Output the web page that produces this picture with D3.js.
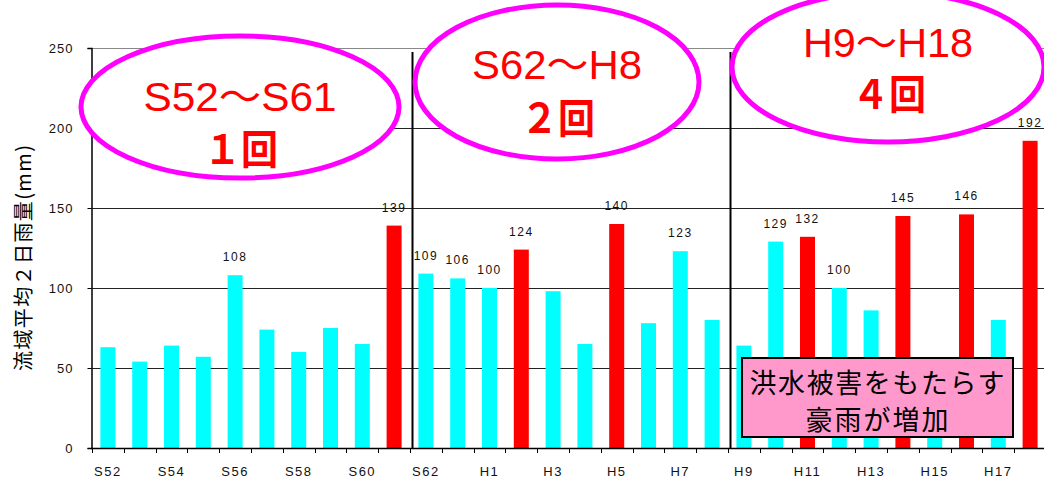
<!DOCTYPE html>
<html>
<head>
<meta charset="utf-8">
<script src="https://cdn.jsdelivr.net/npm/d3@7"></script>
<style>
  body { margin: 0; background: #fff; }
  svg { display: block; }
</style>
</head>
<body>
<div id="chart"></div>
<script>
var years = ['S52', 'S53', 'S54', 'S55', 'S56', 'S57', 'S58', 'S59', 'S60', 'S61',
   'S62', 'S63', 'H1', 'H2', 'H3', 'H4', 'H5', 'H6', 'H7', 'H8',
   'H9', 'H10', 'H11', 'H12', 'H13', 'H14', 'H15', 'H16', 'H17', 'H18'];
var rain = [63, 54, 64, 57, 108, 74, 60, 75, 65, 139,
   109, 106, 100, 124, 98, 65, 140, 78, 123, 80,
   64, 129, 132, 100, 86, 145, 45, 146, 80, 192];
var floodYears = ['S61', 'H2', 'H5', 'H11', 'H14', 'H16', 'H18'];
var yTicks = [0, 50, 100, 150, 200, 250];
var periods = [
   { from: 'S52', to: 'S61', range: 'S52～S61', count: '１回' },
   { from: 'S62', to: 'H8', range: 'S62～H8', count: '２回' },
   { from: 'H9', to: 'H18', range: 'H9～H18', count: '４回' }
];
var yTitle = '流域平均２日雨量(mm)';
var note = ['洪水被害をもたらす', '豪雨が増加'];

var width = 1044, height = 478;
var plotLeft = 92, plotTop = 48, plotBottom = 448;
var step = 31.8;

var data = years.map(function(d, i) {
   return { year: d, value: rain[i], flood: floodYears.indexOf(d) >= 0 };
});

var x = d3.scaleBand()
   .domain(years)
   .range([plotLeft, plotLeft + step * years.length])
   .padding(0);

var y = d3.scaleLinear()
   .domain([0, 250])
   .range([plotBottom, plotTop]);

var svg = d3.select('#chart').append('svg')
   .attr('width', width)
   .attr('height', height);

// grid lines
svg.selectAll('.grid')
   .data(yTicks.filter(function(t) { return t > 0; }))
   .enter().append('line')
   .attr('x1', plotLeft)
   .attr('x2', width)
   .attr('y1', function(d) { return Math.round(y(d)) + 0.5; })
   .attr('y2', function(d) { return Math.round(y(d)) + 0.5; })
   .attr('stroke', function(d) { return d === 250 ? '#888' : '#222'; })
   .attr('stroke-width', 1);

// y axis
var yAxis = svg.append('g')
   .attr('transform', 'translate(' + (plotLeft - 0.5) + ',0)')
   .call(d3.axisLeft(y).tickValues(yTicks).tickSize(4).tickPadding(14));
yAxis.select('.domain').attr('stroke', '#000').attr('stroke-width', 1.5);
yAxis.selectAll('.tick line').attr('stroke', '#000');
yAxis.selectAll('.tick text')
   .attr('font-family', 'Liberation Sans, Arial, sans-serif')
   .attr('font-size', 13)
   .attr('letter-spacing', 1)
   .attr('fill', '#111');

svg.append('text')
   .attr('transform', 'translate(31,' + ((plotTop + plotBottom) / 2 + 10) + ') rotate(-90)')
   .attr('text-anchor', 'middle')
   .attr('font-family', 'Noto Sans CJK JP, sans-serif')
   .attr('font-size', 20)
   .attr('textLength', 226)
   .attr('fill', '#000')
   .text(yTitle);

// bars
var barW = 15;
svg.selectAll('.bar')
   .data(data)
   .enter().append('rect')
   .attr('class', 'bar')
   .attr('x', function(d) { return x(d.year) + x.bandwidth() / 2 - barW / 2; })
   .attr('y', function(d) { return y(d.value); })
   .attr('width', barW)
   .attr('height', function(d) { return plotBottom - y(d.value); })
   .attr('fill', function(d) { return d.flood ? '#ff0000' : '#00ffff'; });

// value labels
svg.selectAll('.val')
   .data(data.filter(function(d) { return d.value >= 100; }))
   .enter().append('text')
   .attr('x', function(d) { return x(d.year) + x.bandwidth() / 2; })
   .attr('y', function(d) { return y(d.value) - 14; })
   .attr('text-anchor', 'middle')
   .attr('font-family', 'Liberation Sans, Arial, sans-serif')
   .attr('font-size', 12)
   .attr('letter-spacing', 1.5)
   .attr('fill', '#111')
   .text(function(d) { return d.value; });

// x axis
svg.append('line')
   .attr('x1', plotLeft - 1)
   .attr('x2', width)
   .attr('y1', plotBottom + 0.5)
   .attr('y2', plotBottom + 0.5)
   .attr('stroke', '#000')
   .attr('stroke-width', 1.5);

svg.selectAll('.xtick')
   .data(years)
   .enter().append('line')
   .attr('x1', function(d) { return Math.round(x(d)) + 0.5; })
   .attr('x2', function(d) { return Math.round(x(d)) + 0.5; })
   .attr('y1', plotBottom)
   .attr('y2', plotBottom + 5)
   .attr('stroke', '#000');

svg.selectAll('.xlab')
   .data(years.filter(function(d, i) { return i % 2 === 0; }))
   .enter().append('text')
   .attr('x', function(d) { return x(d) + x.bandwidth() / 2; })
   .attr('y', 476)
   .attr('text-anchor', 'middle')
   .attr('font-family', 'Liberation Sans, Arial, sans-serif')
   .attr('font-size', 13)
   .attr('letter-spacing', 1.5)
   .attr('fill', '#111')
   .text(function(d) { return d; });

// period separators
svg.selectAll('.sep')
   .data(periods.slice(1))
   .enter().append('line')
   .attr('x1', function(d) { return x(d.from) + 2.5; })
   .attr('x2', function(d) { return x(d.from) + 2.5; })
   .attr('y1', 52)
   .attr('y2', plotBottom)
   .attr('stroke', '#000')
   .attr('stroke-width', 2);

// period ellipses
var bubbles = [
   { cx: 240, cy: 107, rx: 159, ry: 71, t1: 111, t2: 164 },
   { cx: 557, cy: 82, rx: 142, ry: 77, t1: 79, t2: 133 },
   { cx: 888, cy: 67, rx: 156, ry: 75, t1: 57, t2: 109 }
];

var g = svg.selectAll('.period')
   .data(periods)
   .enter().append('g')
   .attr('class', 'period');

g.append('ellipse')
   .attr('cx', function(d, i) { return bubbles[i].cx; })
   .attr('cy', function(d, i) { return bubbles[i].cy; })
   .attr('rx', function(d, i) { return bubbles[i].rx; })
   .attr('ry', function(d, i) { return bubbles[i].ry; })
   .attr('fill', '#fff')
   .attr('stroke', '#ff00ff')
   .attr('stroke-width', 5);

g.append('text')
   .attr('x', function(d, i) { return bubbles[i].cx; })
   .attr('y', function(d, i) { return bubbles[i].t1; })
   .attr('text-anchor', 'middle')
   .attr('font-family', 'Liberation Sans, Noto Sans CJK JP, sans-serif')
   .attr('font-size', 40)
   .attr('textLength', function(d, i) { return i === 0 ? 193 : 170; })
   .attr('lengthAdjust', 'spacingAndGlyphs')
   .attr('fill', '#ff0000')
   .text(function(d) { return d.range; });

g.append('text')
   .attr('x', function(d, i) { return bubbles[i].cx + 1; })
   .attr('y', function(d, i) { return bubbles[i].t2; })
   .attr('text-anchor', 'middle')
   .attr('font-family', 'Noto Sans CJK JP, sans-serif')
   .attr('font-weight', 'bold')
   .attr('font-size', 40)
   .attr('textLength', 74)
   .attr('lengthAdjust', 'spacingAndGlyphs')
   .attr('fill', '#ff0000')
   .text(function(d) { return d.count; });

// note box
var box = svg.append('g');
box.append('rect')
   .attr('x', 742)
   .attr('y', 358)
   .attr('width', 271)
   .attr('height', 79)
   .attr('fill', '#ff99cc')
   .attr('stroke', '#000')
   .attr('stroke-width', 2);

box.selectAll('text')
   .data(note)
   .enter().append('text')
   .attr('x', 877)
   .attr('y', function(d, i) { return 393 + i * 37; })
   .attr('text-anchor', 'middle')
   .attr('font-family', 'Noto Sans CJK JP, sans-serif')
   .attr('font-size', 27)
   .attr('textLength', function(d, i) { return i === 0 ? 255 : 143; })
   .attr('fill', '#000')
   .text(function(d) { return d; });
</script>
</body>
</html>
